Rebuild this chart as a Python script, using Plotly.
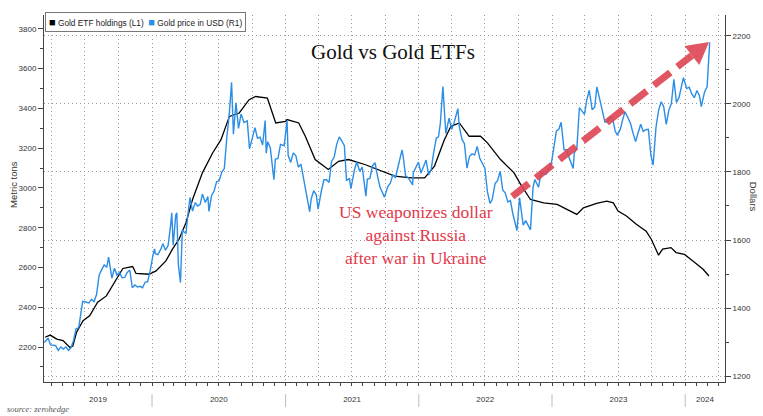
import plotly.graph_objects as go
import pandas as pd

# ---------------- data ----------------
gold_dates = [
    "2019-03-08","2019-03-15","2019-03-22","2019-03-29","2019-04-05","2019-04-12","2019-04-19","2019-04-26",
    "2019-05-03","2019-05-10","2019-05-17","2019-05-24","2019-05-31","2019-06-07","2019-06-14","2019-06-21",
    "2019-06-25","2019-07-03","2019-07-12","2019-07-19","2019-07-26","2019-08-02","2019-08-09","2019-08-16",
    "2019-08-23","2019-08-30","2019-09-04","2019-09-13","2019-09-20","2019-09-27","2019-10-04","2019-10-11",
    "2019-10-18","2019-10-25","2019-11-01","2019-11-08","2019-11-15","2019-11-22","2019-11-29","2019-12-06",
    "2019-12-13","2019-12-20","2019-12-27",
    "2020-01-03","2020-01-08","2020-01-10","2020-01-17","2020-01-24","2020-01-31","2020-02-07","2020-02-14",
    "2020-02-21","2020-02-24","2020-02-28","2020-03-06","2020-03-09","2020-03-13","2020-03-19","2020-03-24",
    "2020-03-27","2020-04-03","2020-04-09","2020-04-14","2020-04-21","2020-04-28","2020-05-05","2020-05-12",
    "2020-05-18","2020-05-26","2020-06-02","2020-06-05","2020-06-12","2020-06-19","2020-06-26","2020-07-03",
    "2020-07-10","2020-07-17","2020-07-24","2020-07-31","2020-08-06","2020-08-11","2020-08-18","2020-08-25",
    "2020-09-01","2020-09-09","2020-09-18","2020-09-24","2020-10-02","2020-10-09","2020-10-16","2020-10-23",
    "2020-10-30","2020-11-06","2020-11-09","2020-11-13","2020-11-20","2020-11-30","2020-12-04","2020-12-11",
    "2020-12-18","2020-12-28",
    "2021-01-05","2021-01-08","2021-01-15","2021-01-22","2021-01-29","2021-02-05","2021-02-12","2021-02-19",
    "2021-02-26","2021-03-08","2021-03-12","2021-03-19","2021-03-26","2021-03-31","2021-04-09","2021-04-16",
    "2021-04-23","2021-04-30","2021-05-07","2021-05-14","2021-05-21","2021-05-28","2021-06-04","2021-06-11",
    "2021-06-17","2021-06-25","2021-06-29","2021-07-09","2021-07-15","2021-07-23","2021-07-30","2021-08-09",
    "2021-08-13","2021-08-20","2021-08-27","2021-09-03","2021-09-10","2021-09-17","2021-09-29","2021-10-08",
    "2021-10-15","2021-10-22","2021-10-29","2021-11-05","2021-11-16","2021-11-19","2021-11-26","2021-12-03",
    "2021-12-15","2021-12-17","2021-12-31",
    "2022-01-07","2022-01-14","2022-01-21","2022-01-28","2022-02-04","2022-02-11","2022-02-18","2022-02-24",
    "2022-03-01","2022-03-08","2022-03-11","2022-03-16","2022-03-25","2022-04-01","2022-04-08","2022-04-18",
    "2022-04-22","2022-04-29","2022-05-06","2022-05-13","2022-05-20","2022-05-27","2022-06-03","2022-06-10",
    "2022-06-17","2022-06-24","2022-07-01","2022-07-08","2022-07-15","2022-07-21","2022-07-29","2022-08-05",
    "2022-08-12","2022-08-19","2022-08-26","2022-09-02","2022-09-09","2022-09-16","2022-09-27","2022-10-04",
    "2022-10-07","2022-10-14","2022-10-21","2022-11-03","2022-11-10","2022-11-15","2022-11-25","2022-12-02",
    "2022-12-09","2022-12-16","2022-12-30",
    "2023-01-06","2023-01-13","2023-01-20","2023-01-26","2023-02-03","2023-02-10","2023-02-17","2023-02-28",
    "2023-03-03","2023-03-10","2023-03-17","2023-03-24","2023-03-31","2023-04-06","2023-04-13","2023-04-21",
    "2023-04-28","2023-05-04","2023-05-12","2023-05-19","2023-05-26","2023-06-02","2023-06-09","2023-06-16",
    "2023-06-23","2023-06-29","2023-07-07","2023-07-14","2023-07-20","2023-07-28","2023-08-04","2023-08-11",
    "2023-08-18","2023-08-25","2023-09-01","2023-09-08","2023-09-15","2023-09-22","2023-09-29","2023-10-05",
    "2023-10-13","2023-10-20","2023-10-27","2023-11-03","2023-11-10","2023-11-17","2023-11-24","2023-12-01",
    "2023-12-08","2023-12-15","2023-12-22","2023-12-27",
    "2024-01-05","2024-01-12","2024-01-19","2024-01-26","2024-02-02","2024-02-09","2024-02-14","2024-02-23",
    "2024-03-01","2024-03-05","2024-03-08",
]
gold_price = [
    1298,1302,1312,1292,1291,1290,1276,1286,
    1280,1286,1276,1284,1305,1340,1342,1398,
    1420,1418,1415,1426,1419,1440,1497,1513,
    1527,1520,1550,1488,1517,1497,1505,1489,
    1490,1505,1512,1460,1468,1462,1464,1460,
    1476,1478,1510,
    1552,1574,1560,1557,1571,1589,1570,1584,
    1644,1680,1585,1674,1680,1530,1475,1630,
    1625,1620,1680,1725,1685,1710,1700,1705,
    1735,1710,1728,1684,1730,1744,1771,1774,
    1799,1810,1902,1975,2063,1911,2003,1928,
    1970,1945,1950,1868,1900,1930,1899,1902,
    1879,1951,1855,1889,1871,1777,1838,1839,
    1881,1877,
    1950,1849,1828,1856,1848,1814,1823,1784,
    1734,1683,1720,1745,1733,1691,1744,1777,
    1777,1769,1831,1843,1881,1903,1891,1877,
    1774,1781,1751,1808,1829,1802,1814,1729,
    1779,1781,1818,1827,1787,1754,1726,1757,
    1767,1792,1783,1818,1865,1846,1788,1783,
    1762,1798,1829,
    1797,1817,1835,1791,1808,1859,1899,1903,
    1943,2051,1988,1913,1958,1925,1946,1986,
    1932,1897,1883,1811,1846,1853,1850,1875,
    1840,1827,1811,1742,1708,1718,1766,1775,
    1802,1747,1738,1712,1716,1675,1628,1725,
    1695,1644,1657,1630,1755,1778,1755,1797,
    1797,1793,1824,
    1866,1920,1926,1946,1865,1865,1842,1810,
    1856,1868,1989,1978,1969,2010,2040,1983,
    1990,2050,2011,1978,1946,1948,1961,1958,
    1920,1908,1925,1955,1977,1959,1943,1914,
    1889,1915,1940,1919,1924,1925,1849,1820,
    1932,1981,2006,1992,1940,1981,2001,2072,
    2004,2019,2053,2077,
    2045,2049,2029,2018,2039,2024,1992,2035,
    2050,2128,2180,
]

etf_dates = [
    "2019-03-14","2019-03-28","2019-04-15","2019-05-02","2019-05-21","2019-05-29","2019-06-08","2019-06-26",
    "2019-07-14","2019-08-05","2019-08-29","2019-09-15","2019-10-04","2019-10-13","2019-11-09","2019-11-18",
    "2019-12-24","2020-01-12","2020-02-08","2020-02-26","2020-03-15","2020-04-03","2020-04-21","2020-05-18",
    "2020-06-15","2020-07-08","2020-07-31","2020-08-27","2020-09-23","2020-10-11","2020-11-12","2020-12-05",
    "2021-01-01","2021-01-05","2021-02-06","2021-02-24","2021-03-23","2021-04-28","2021-05-26","2021-06-22",
    "2021-08-06","2021-09-12","2021-10-27","2021-12-11","2022-01-17","2022-02-13","2022-03-12","2022-03-30",
    "2022-04-22","2022-05-19","2022-06-19","2022-07-08","2022-08-13","2022-09-19","2022-10-07","2022-11-03",
    "2022-12-09","2023-01-15","2023-02-20","2023-03-10","2023-03-28","2023-05-03","2023-05-31","2023-06-18",
    "2023-07-01","2023-07-24","2023-08-20","2023-09-16","2023-09-30","2023-10-13","2023-10-20","2023-10-31",
    "2023-11-23","2023-12-07","2023-12-30","2024-01-22","2024-02-19","2024-03-06",
]
etf_holdings = [
    2249,2260,2240,2232,2198,2205,2273,2332,
    2357,2425,2457,2507,2565,2595,2605,2570,
    2566,2583,2633,2692,2742,2825,2942,3076,
    3176,3243,3360,3377,3444,3460,3452,3327,
    3335,3344,3327,3260,3143,3093,3134,3143,
    3118,3093,3059,3051,3051,3110,3243,3310,
    3327,3260,3260,3227,3143,3076,3018,2942,
    2925,2917,2884,2867,2900,2922,2934,2925,
    2884,2859,2817,2783,2742,2692,2662,2692,
    2700,2675,2666,2633,2591,2557,
]

etf_name = "Gold ETF holdings (L1)"
gold_name = "Gold price in USD (R1)"

year_labels = ["2019", "2020", "2021", "2022", "2023", "2024"]
year_label_pos = ["2019-08-06", "2020-07-02", "2021-07-02", "2022-07-02", "2023-07-02", "2024-02-24"]
year_starts = ["2020-01-01", "2021-01-01", "2022-01-01", "2023-01-01", "2024-01-01"]

left_ticks = [2200, 2400, 2600, 2800, 3000, 3200, 3400, 3600, 3800]
right_ticks = [1200, 1400, 1600, 1800, 2000, 2200]

x_range = ["2019-03-11", "2024-04-19"]
quarters = [d.strftime("%Y-%m-%d") for d in pd.date_range("2019-04-01", "2024-04-01", freq="QS")]

# ---------------- styles ----------------
BLACK = "#000000"
BLUE = "#2a8de6"
RED = "#e2394b"
ARROW = "rgba(222,68,82,0.9)"
AXIS = "#444444"
GRID = "#9a9a9a"
TICKFONT = dict(family="Liberation Sans", size=8, color="#333333")

fig = go.Figure()
fig.add_trace(go.Scatter(x=etf_dates, y=etf_holdings, name=etf_name, mode="lines",
                         line=dict(color=BLACK, width=1.3), yaxis="y", showlegend=False))
fig.add_trace(go.Scatter(x=gold_dates, y=gold_price, name=gold_name, mode="lines",
                         line=dict(color=BLUE, width=1.4), yaxis="y2", showlegend=False))
# helper trace so the monthly-tick axis is drawn
fig.add_trace(go.Scatter(x=[x_range[0]], y=[None], xaxis="x2", yaxis="y", mode="lines",
                         showlegend=False, hoverinfo="skip"))

fig.update_layout(
    width=763, height=416,
    margin=dict(l=44, r=34, t=15, b=33),
    paper_bgcolor="white", plot_bgcolor="white",
    showlegend=False,
    xaxis=dict(
        type="date", range=x_range,
        tickmode="array", tickvals=year_label_pos, ticktext=year_labels,
        ticks="outside", ticklen=9, tickcolor="rgba(0,0,0,0)",
        tickfont=TICKFONT, showgrid=False, zeroline=False,
        showline=True, linecolor=AXIS, linewidth=1,
        minor=dict(tickmode="array", tickvals=quarters, showgrid=True,
                   gridcolor=GRID, griddash="1px,3px", gridwidth=1, ticks=""),
    ),
    xaxis2=dict(
        type="date", range=x_range, overlaying="x", anchor="y", side="bottom",
        tickmode="linear", tick0="2019-01-01", dtick="M1",
        ticks="outside", ticklen=3, tickcolor=AXIS, showticklabels=False,
        showgrid=False, showline=False, zeroline=False,
    ),
    yaxis=dict(
        range=[2024, 3870], tickmode="array", tickvals=left_ticks,
        ticks="outside", ticklen=5, tickcolor=AXIS, tickfont=TICKFONT,
        showgrid=False, zeroline=False, showline=True, linecolor=AXIS, linewidth=1,
        minor=dict(dtick=100, tick0=2000, ticks="outside", ticklen=3, tickcolor=AXIS, showgrid=False),
    ),
    yaxis2=dict(
        range=[1183, 2261], overlaying="y", side="right", anchor="x",
        tickmode="array", tickvals=right_ticks,
        ticks="outside", ticklen=5, tickcolor=AXIS, tickfont=TICKFONT,
        showgrid=True, gridcolor=GRID, griddash="1px,3px", gridwidth=1,
        zeroline=False, showline=True, linecolor=AXIS, linewidth=1,
        minor=dict(dtick=100, tick0=1100, ticks="outside", ticklen=3, tickcolor=AXIS, showgrid=False),
    ),
)

# year separators under the axis
for d in year_starts:
    fig.add_shape(type="line", xref="x", yref="paper", x0=d, x1=d, y0=-0.033, y1=-0.068,
                  line=dict(color="#bbbbbb", width=1))

# dashed arrow (paper coordinates)
fig.add_shape(type="line", xref="paper", yref="paper",
              x0=0.6876, y0=0.5054, x1=0.9514, y1=0.8897,
              line=dict(color=ARROW, width=7, dash="21px,9px"))
fig.add_shape(type="path", xref="paper", yref="paper",
              path="M 0.9766 0.9266 L 0.9622 0.8641 L 0.9406 0.9152 Z",
              fillcolor=ARROW, line=dict(width=0))

# legend box
legend_text = (f'<span style="color:{BLACK};font-size:11px">■</span> {etf_name}  '
               f'<span style="color:{BLUE};font-size:11px">■</span> {gold_name}')
fig.add_annotation(xref="paper", yref="paper", x=0.0015, y=1.008, xanchor="left", yanchor="top",
                   text=legend_text, showarrow=False, align="left",
                   font=dict(family="Liberation Sans", size=8.3, color="#222222"),
                   bgcolor="white", bordercolor="#777777", borderwidth=1, borderpad=3)

# title
fig.add_annotation(xref="paper", yref="paper", x=0.512, y=0.899, xanchor="center", yanchor="middle",
                   text="Gold vs Gold ETFs", showarrow=False,
                   font=dict(family="Liberation Serif", size=21, color="#111111"))

# red commentary
fig.add_annotation(xref="paper", yref="paper", x=0.5466, y=0.3995, xanchor="center", yanchor="middle",
                   text="US weaponizes dollar<br>against Russia<br>after war in Ukraine",
                   showarrow=False, align="center",
                   font=dict(family="Liberation Serif", size=17.5, color=RED))

# axis titles
fig.add_annotation(xref="paper", yref="paper", x=-0.045, y=0.538, xanchor="center", yanchor="middle",
                   textangle=-90, text="Metric tons", showarrow=False,
                   font=dict(family="Liberation Sans", size=9.5, color="#333333"))
fig.add_annotation(xref="paper", yref="paper", x=1.041, y=0.505, xanchor="center", yanchor="middle",
                   textangle=90, text="Dollars", showarrow=False,
                   font=dict(family="Liberation Sans", size=9.5, color="#333333"))

# source
fig.add_annotation(xref="paper", yref="paper", x=-0.057, y=-0.073, xanchor="left", yanchor="middle",
                   text="<i>source: zerohedge</i>", showarrow=False,
                   font=dict(family="Liberation Serif", size=8.5, color="#555555"))

fig.write_html("out.html")
